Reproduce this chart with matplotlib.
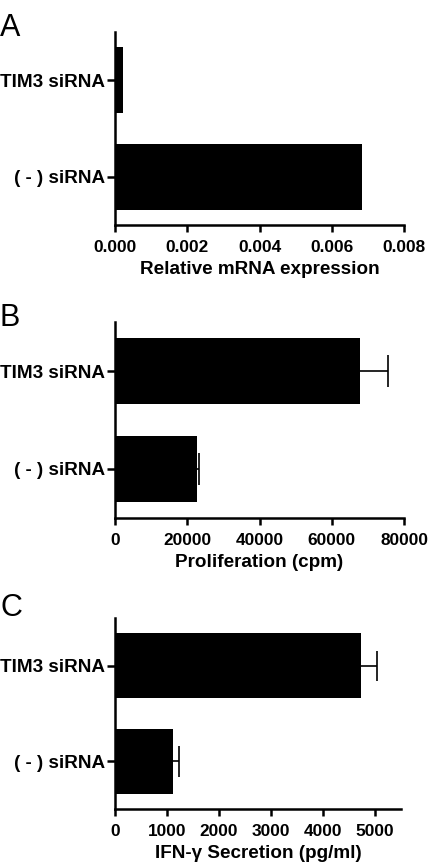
import matplotlib
matplotlib.use("Agg")
import matplotlib.pyplot as plt

plt.rcParams['font.family'] = ['Liberation Sans', 'DejaVu Sans']

# data
groups = ["( - ) siRNA", "TIM3 siRNA"]
mrna = [0.00684, 0.00022]
prolif = [22700, 67800]
prolif_err = [600, 7900]
ifng = [1110, 4730]
ifng_err = [120, 300]

panels = [
    dict(letter="A", vals=mrna, err=None, xlim=(0, 0.008),
         ticks=[0, 0.002, 0.004, 0.006, 0.008],
         ticklabels=["0.000", "0.002", "0.004", "0.006", "0.008"],
         xlabel="Relative mRNA expression",
         rect=[0.2687, 0.7399, 0.6753, 0.2231], letter_y=0.985),
    dict(letter="B", vals=prolif, err=prolif_err, xlim=(0, 80000),
         ticks=[0, 20000, 40000, 60000, 80000],
         ticklabels=["0", "20000", "40000", "60000", "80000"],
         xlabel="Proliferation (cpm)",
         rect=[0.2687, 0.4012, 0.6753, 0.2265], letter_y=0.650),
    dict(letter="C", vals=ifng, err=ifng_err, xlim=(0, 5500),
         ticks=[0, 1000, 2000, 3000, 4000, 5000],
         ticklabels=["0", "1000", "2000", "3000", "4000", "5000"],
         xlabel="IFN-\u03b3 Secretion (pg/ml)",
         rect=[0.2687, 0.0647, 0.6682, 0.2208], letter_y=0.315),
]

fs = 13.6
fig = plt.figure(figsize=(4.28, 8.65), dpi=100)

for p in panels:
    ax = fig.add_axes(p["rect"])
    ypos = list(range(len(groups)))
    ax.barh(ypos, p["vals"], height=0.68, color="black")
    if p["err"] is not None:
        # one-sided error bars, cap only at the outer end
        ends = [v + e for v, e in zip(p["vals"], p["err"])]
        ax.hlines(ypos, p["vals"], ends, color="black", linewidth=1.2)
        ax.vlines(ends, [y - 0.16 for y in ypos], [y + 0.16 for y in ypos],
                  color="black", linewidth=1.2)
    ax.set_xlim(*p["xlim"])
    ax.set_ylim(-0.5, 1.5)
    ax.set_xticks(p["ticks"])
    ax.set_xticklabels(p["ticklabels"], fontsize=12.4, fontweight="bold")
    ax.set_yticks(ypos)
    ax.set_yticklabels(groups, fontsize=fs, fontweight="bold")
    ax.set_xlabel(p["xlabel"], fontsize=fs, fontweight="bold", labelpad=4)
    for s in ["top", "right"]:
        ax.spines[s].set_visible(False)
    for s in ["left", "bottom"]:
        ax.spines[s].set_linewidth(1.8)
    ax.tick_params(axis="x", length=5, width=1.8, pad=6)
    ax.tick_params(axis="y", length=6, width=1.8, pad=1)
    fig.text(0.0, p["letter_y"], p["letter"], fontsize=22, va="top", ha="left")

fig.savefig("out.png", dpi=100)
